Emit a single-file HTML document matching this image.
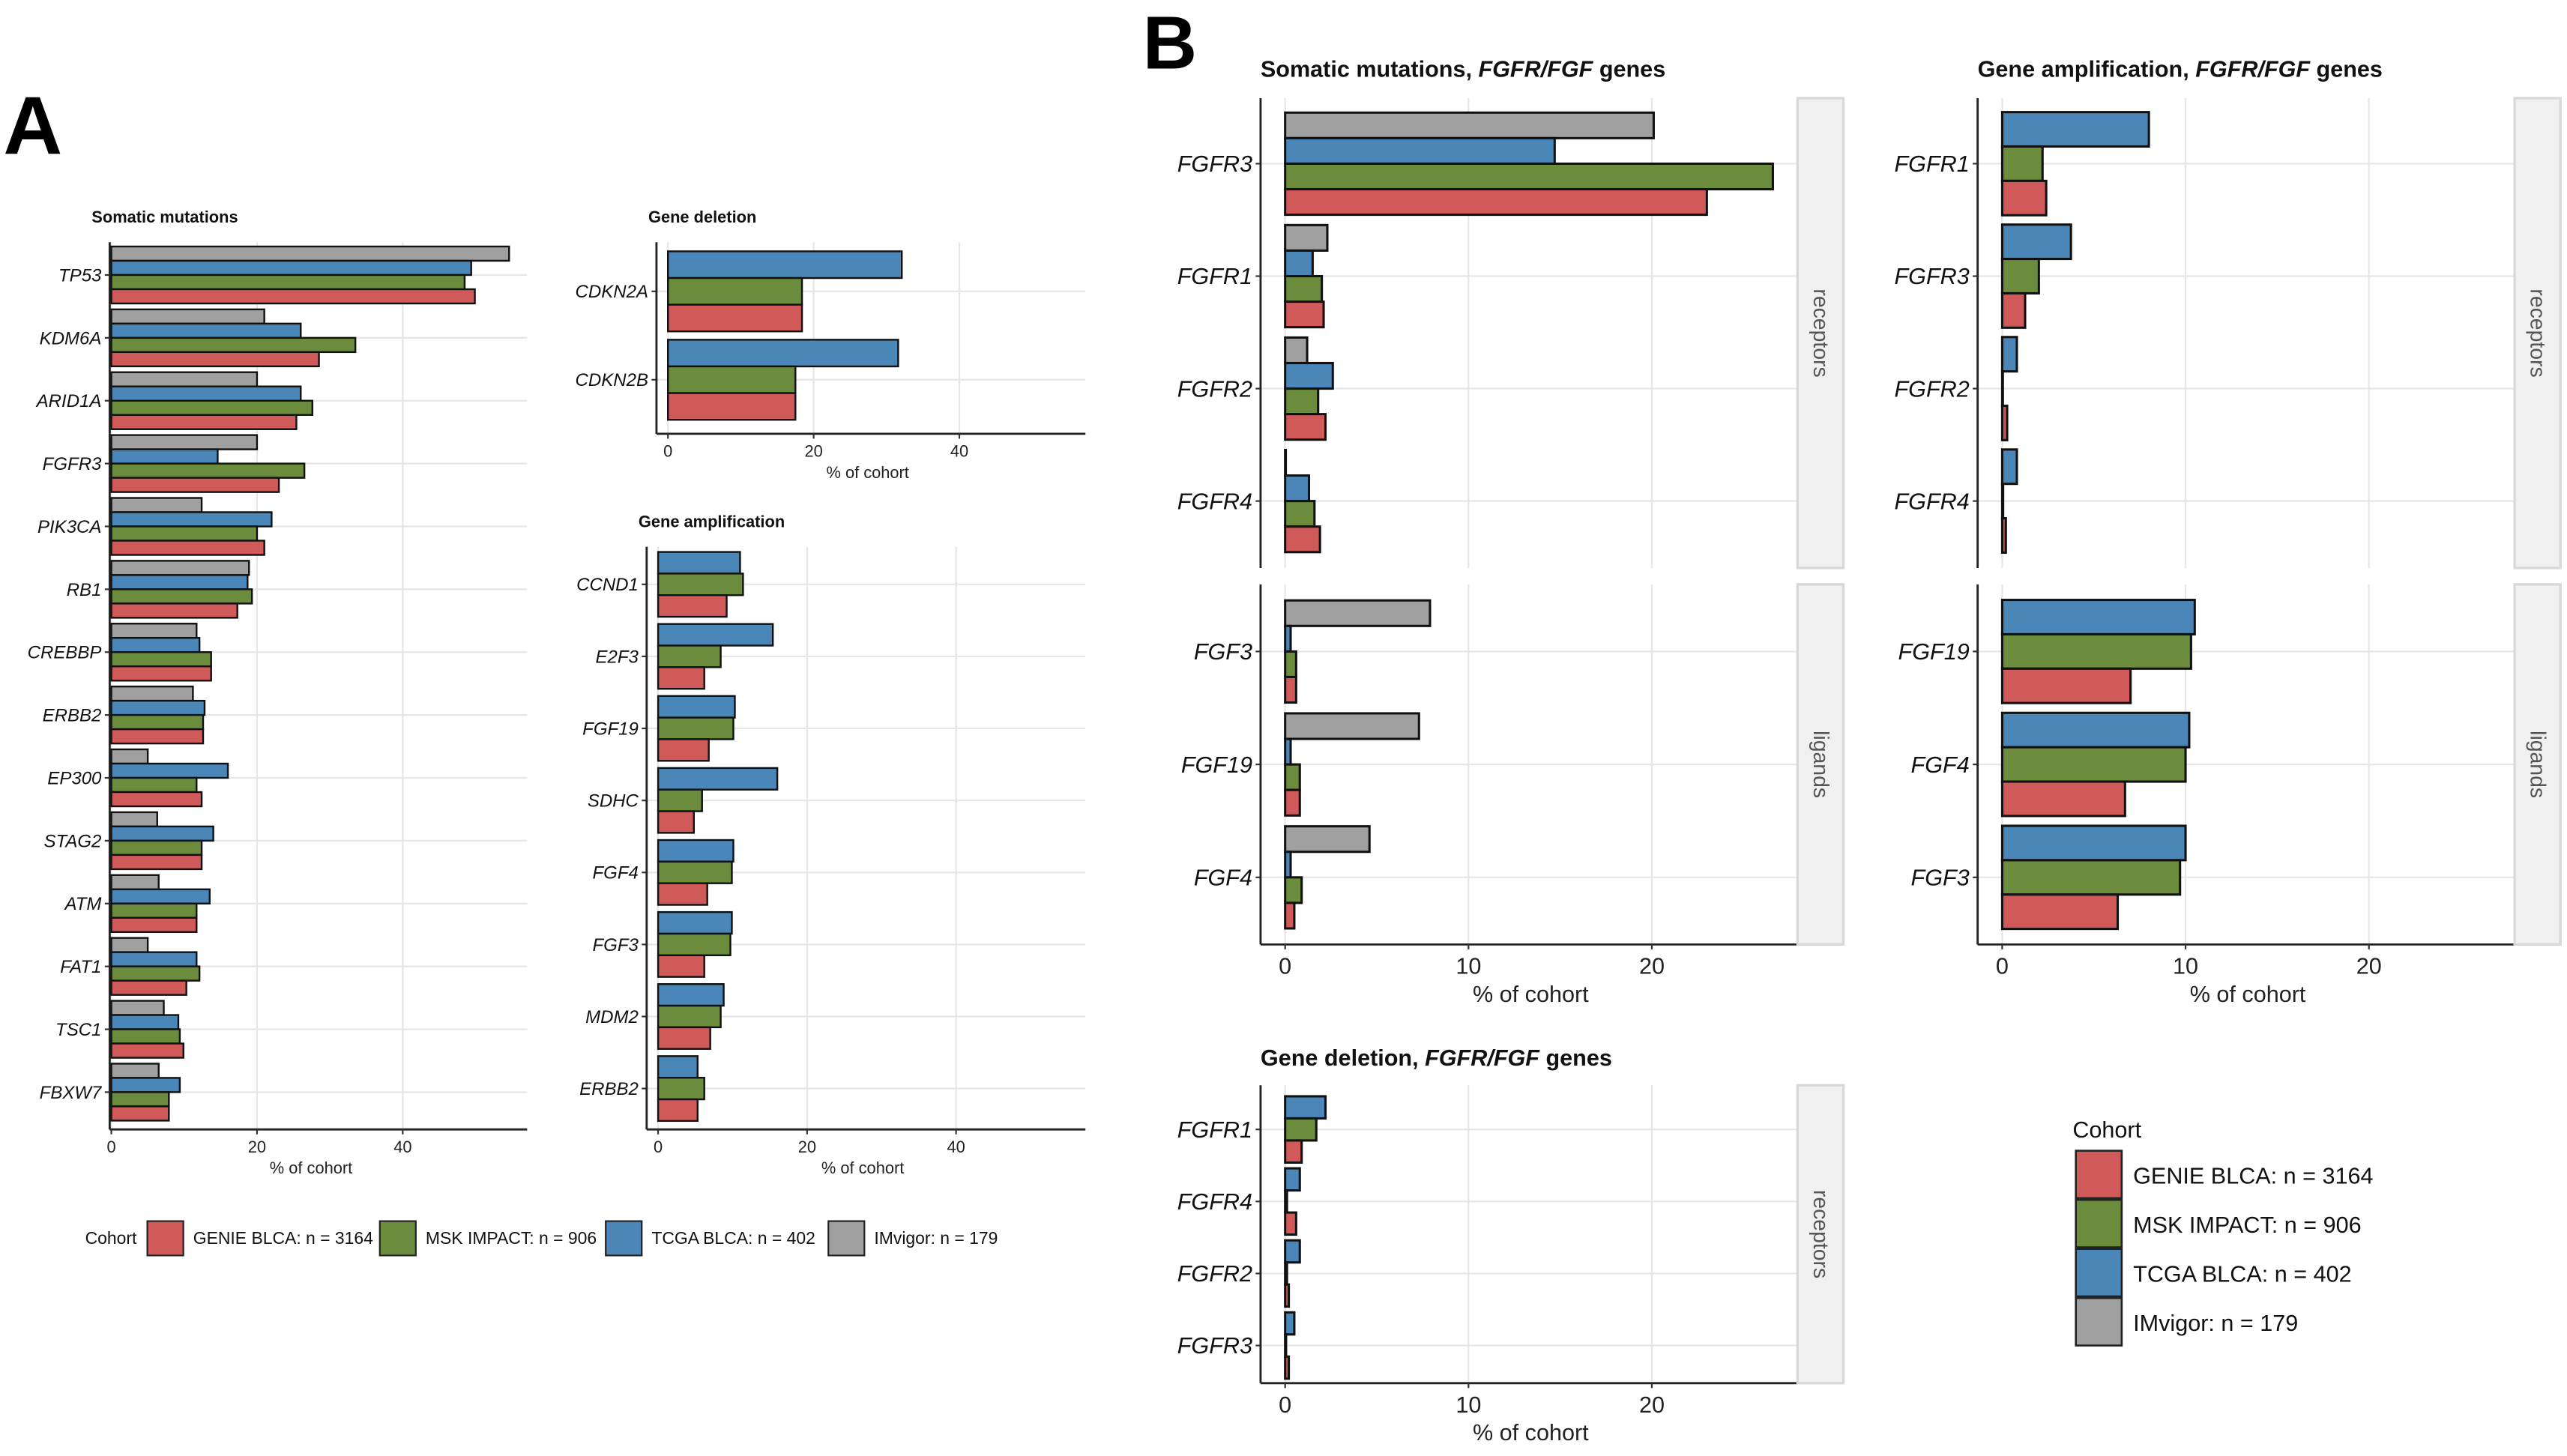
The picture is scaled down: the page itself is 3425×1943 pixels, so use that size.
<!DOCTYPE html>
<html><head><meta charset="utf-8"><style>
html,body{margin:0;padding:0;background:#fff;}
svg{display:block;font-family:"Liberation Sans",Arial,sans-serif;}
</style></head><body>
<svg id="fig" width="3425" height="1943" viewBox="0 0 1568 889.5" preserveAspectRatio="none" xmlns="http://www.w3.org/2000/svg">
<text x="2" y="94" font-size="50" font-weight="bold">A</text>
<text x="698" y="42" font-size="46" font-weight="bold">B</text>
</svg>
<script>
// ---- data ----
const seriesNames = ["GENIE BLCA: n = 3164","MSK IMPACT: n = 906","TCGA BLCA: n = 402","IMvigor: n = 179"];
const seriesColors = ["#d05a5a","#6a8c3c","#4a86b8","#a0a0a0"];

const aMutGenes = ["TP53","KDM6A","ARID1A","FGFR3","PIK3CA","RB1","CREBBP","ERBB2","EP300","STAG2","ATM","FAT1","TSC1","FBXW7"];
const aMutGray  = [54.6,21,20,20,12.4,18.9,11.7,11.2,5,6.3,6.5,5,7.2,6.5];
const aMutBlue  = [49.4,26,26,14.6,22,18.7,12.1,12.8,16,14,13.5,11.7,9.2,9.4];
const aMutGreen = [48.5,33.5,27.6,26.5,20,19.3,13.7,12.6,11.7,12.4,11.7,12.1,9.4,7.9];
const aMutRed   = [49.9,28.5,25.4,23,21,17.3,13.7,12.6,12.4,12.4,11.7,10.3,9.9,7.9];

const aDelGenes = ["CDKN2A","CDKN2B"];
const aDelBlue  = [32.1,31.6];
const aDelGreen = [18.4,17.5];
const aDelRed   = [18.4,17.5];

const aAmpGenes = ["CCND1","E2F3","FGF19","SDHC","FGF4","FGF3","MDM2","ERBB2"];
const aAmpBlue  = [11,15.4,10.3,16,10.1,9.9,8.8,5.3];
const aAmpGreen = [11.4,8.4,10.1,5.9,9.9,9.7,8.4,6.2];
const aAmpRed   = [9.2,6.2,6.8,4.8,6.6,6.2,7,5.3];

const bMutRecGenes = ["FGFR3","FGFR1","FGFR2","FGFR4"];
const bMutRecGray  = [20.1,2.3,1.2,0];
const bMutRecBlue  = [14.7,1.5,2.6,1.3];
const bMutRecGreen = [26.6,2,1.8,1.6];
const bMutRecRed   = [23,2.1,2.2,1.9];
const bMutLigGenes = ["FGF3","FGF19","FGF4"];
const bMutLigGray  = [7.9,7.3,4.6];
const bMutLigBlue  = [0.3,0.3,0.3];
const bMutLigGreen = [0.6,0.8,0.9];
const bMutLigRed   = [0.6,0.8,0.5];

const bAmpRecGenes = ["FGFR1","FGFR3","FGFR2","FGFR4"];
const bAmpRecBlue  = [8,3.75,0.8,0.8];
const bAmpRecGreen = [2.2,2,0,0.05];
const bAmpRecRed   = [2.4,1.25,0.27,0.2];
const bAmpLigGenes = ["FGF19","FGF4","FGF3"];
const bAmpLigBlue  = [10.5,10.2,10];
const bAmpLigGreen = [10.3,10,9.7];
const bAmpLigRed   = [7,6.7,6.3];

const bDelGenes = ["FGFR1","FGFR4","FGFR2","FGFR3"];
const bDelBlue  = [2.2,0.8,0.8,0.5];
const bDelGreen = [1.7,0.1,0.1,0.05];
const bDelRed   = [0.9,0.6,0.2,0.2];

const ticksA = [0,20,40];
const ticksB = [0,10,20];

// ---- drawing ----
const NS="http://www.w3.org/2000/svg";
const svg=document.getElementById('fig');
function mk(tag,attrs,parent){const e=document.createElementNS(NS,tag);for(const k in attrs)e.setAttribute(k,attrs[k]);(parent||svg).appendChild(e);return e;}

function panel(name,p,genes,series,colorIdx){
  const g=mk('g',{});
  
  
  const xs=v=>p.x0+v*p.ppu;
  const ys=i=>p.first+i*p.step;
  for(const t of p.ticks){const gx=xs(t);if(gx>p.right)continue;
    const l=mk('line',{x1:gx,x2:gx,y1:p.top,y2:p.bottom,stroke:'#e6e6e6','stroke-width':1},g);
    }
  genes.forEach((gn,i)=>{const l=mk('line',{x1:p.left,x2:p.right,y1:ys(i),y2:ys(i),stroke:'#e6e6e6','stroke-width':1},g);
    });
  const n=series.length;
  genes.forEach((gn,i)=>{
    const top=ys(i)-n*p.barH/2;
    series.forEach((arr,k)=>{
      const v=arr[i];
      const r=mk('rect',{x:xs(0),y:top+k*p.barH,width:Math.max(0.4,xs(v)-xs(0)),height:p.barH,fill:seriesColors[colorIdx[k]],stroke:'#111','stroke-width':p.lw},g);
      
      
    });
    const tk=mk('line',{x1:p.left-3,x2:p.left,y1:ys(i),y2:ys(i),stroke:'#333','stroke-width':1},g);
    
    const tl=mk('text',{x:p.left-5,y:ys(i)+p.lfs*0.35,'font-size':p.lfs,'font-style':'italic','text-anchor':'end',fill:'#111'},g);
    tl.textContent=gn;
    
  });
  const ya=mk('line',{x1:p.left,x2:p.left,y1:p.top,y2:p.bottom,stroke:'#222','stroke-width':1.3},g);
  
  if(p.xaxis){
    const xa=mk('line',{x1:p.left,x2:p.right,y1:p.bottom,y2:p.bottom,stroke:'#222','stroke-width':1.3},g);
    
    for(const t of p.ticks){
      const tk=mk('line',{x1:xs(t),x2:xs(t),y1:p.bottom,y2:p.bottom+3,stroke:'#333','stroke-width':1},g);
      
      const tl=mk('text',{x:xs(t),y:p.bottom+p.fs+4,'font-size':p.fs,'text-anchor':'middle',fill:'#222'},g);
      tl.textContent=t;
      
    }
    const tt=mk('text',{x:(p.titleX!=null?p.titleX:(p.left+p.right)/2),y:p.bottom+p.fs*2+7,'font-size':p.fs,'text-anchor':'middle',fill:'#222'},g);
    tt.textContent='% of cohort';
    
  }
  if(p.strip){
    const sr=mk('rect',{x:p.right,y:p.top,width:28,height:p.bottom-p.top,fill:'#f0f0f0',stroke:'#d8d8d8','stroke-width':1.5},g);
    
    const cx=p.right+14,cy=(p.top+p.bottom)/2;
    const st=mk('text',{x:cx,y:cy,'font-size':13,'text-anchor':'middle',fill:'#555',transform:`rotate(90 ${cx} ${cy})`,'dominant-baseline':'central'},g);
    st.textContent=p.strip;
    
  }
}
function title(txt,x,y,fs,italicPart){
  const t=mk('text',{x:x,y:y,'font-size':fs,'font-weight':'bold',fill:'#111'});
  
  if(italicPart){
    const a=mk('tspan',{},t);a.textContent=txt[0];
    const b=mk('tspan',{'font-style':'italic'},t);b.textContent=txt[1];
    const c=mk('tspan',{},t);c.textContent=txt[2];
  } else t.textContent=txt;
}

// Panel A
title('Somatic mutations',56,136,10);
panel('a-somatic-mutations-chart',{x0:68,ppu:4.45,left:67,right:322,top:148,bottom:690,first:168,step:38.4,barH:8.7,fs:10,lfs:11,lw:1.1,ticks:ticksA,xaxis:true,titleX:190},
  aMutGenes,[aMutGray,aMutBlue,aMutGreen,aMutRed],[3,2,1,0]);
title('Gene deletion',396,136,10);
panel('a-gene-deletion-chart',{x0:408,ppu:4.45,left:401,right:663,top:148,bottom:265,first:178,step:54,barH:16.3,fs:10,lfs:11,lw:1.1,ticks:ticksA,xaxis:true,titleX:530},
  aDelGenes,[aDelBlue,aDelGreen,aDelRed],[2,1,0]);
title('Gene amplification',390,322,10);
panel('a-gene-amplification-chart',{x0:402,ppu:4.55,left:395,right:663,top:334,bottom:690,first:357,step:44,barH:13.2,fs:10,lfs:11,lw:1.1,ticks:ticksA,xaxis:true,titleX:527},
  aAmpGenes,[aAmpBlue,aAmpGreen,aAmpRed],[2,1,0]);

// Panel B
title(['Somatic mutations, ','FGFR/FGF',' genes'],770,47,14,true);
panel('b-mutations-receptors-chart',{x0:785,ppu:11.2,left:770,right:1098,top:60,bottom:347,first:100,step:68.7,barH:15.6,fs:14,lfs:14,lw:1.4,ticks:ticksB,xaxis:false,strip:'receptors'},
  bMutRecGenes,[bMutRecGray,bMutRecBlue,bMutRecGreen,bMutRecRed],[3,2,1,0]);
panel('b-mutations-ligands-chart',{x0:785,ppu:11.2,left:770,right:1098,top:357,bottom:577,first:398,step:69,barH:15.6,fs:14,lfs:14,lw:1.4,ticks:ticksB,xaxis:true,strip:'ligands',titleX:935},
  bMutLigGenes,[bMutLigGray,bMutLigBlue,bMutLigGreen,bMutLigRed],[3,2,1,0]);

title(['Gene amplification, ','FGFR/FGF',' genes'],1208,47,14,true);
panel('b-amplification-receptors-chart',{x0:1223,ppu:11.2,left:1208,right:1536,top:60,bottom:347,first:100,step:68.7,barH:21,fs:14,lfs:14,lw:1.4,ticks:ticksB,xaxis:false,strip:'receptors'},
  bAmpRecGenes,[bAmpRecBlue,bAmpRecGreen,bAmpRecRed],[2,1,0]);
panel('b-amplification-ligands-chart',{x0:1223,ppu:11.2,left:1208,right:1536,top:357,bottom:577,first:398,step:69,barH:21,fs:14,lfs:14,lw:1.4,ticks:ticksB,xaxis:true,strip:'ligands',titleX:1373},
  bAmpLigGenes,[bAmpLigBlue,bAmpLigGreen,bAmpLigRed],[2,1,0]);

title(['Gene deletion, ','FGFR/FGF',' genes'],770,651,14,true);
panel('b-gene-deletion-chart',{x0:785,ppu:11.2,left:770,right:1098,top:663,bottom:845,first:690,step:44,barH:13.5,fs:14,lfs:14,lw:1.4,ticks:ticksB,xaxis:true,strip:'receptors',titleX:935},
  bDelGenes,[bDelBlue,bDelGreen,bDelRed],[2,1,0]);

// Legend A
(function(){
  const g=mk('g',{});
  
  
  const t=mk('text',{x:52,y:760,'font-size':10.5,fill:'#111'},g);t.textContent='Cohort';
  
  const bx=[90,232,370,506];
  seriesNames.forEach((s,i)=>{
    const r=mk('rect',{x:bx[i],y:746,width:22,height:21,fill:seriesColors[i],stroke:'#222','stroke-width':1},g);
    
    const tx=mk('text',{x:bx[i]+28,y:760,'font-size':10.5,fill:'#111'},g);tx.textContent=s;
    
  });
})();
// Legend B
(function(){
  const g=mk('g',{});
  
  
  const t=mk('text',{x:1266,y:695,'font-size':14,fill:'#111'},g);t.textContent='Cohort';
  
  seriesNames.forEach((s,i)=>{
    const y=703+i*30;
    const r=mk('rect',{x:1268,y:y,width:28,height:29,fill:seriesColors[i],stroke:'#222','stroke-width':1.2},g);
    
    const tx=mk('text',{x:1303,y:y+20,'font-size':14,fill:'#111'},g);tx.textContent=s;
    
  });
})();
</script>
</body></html>
